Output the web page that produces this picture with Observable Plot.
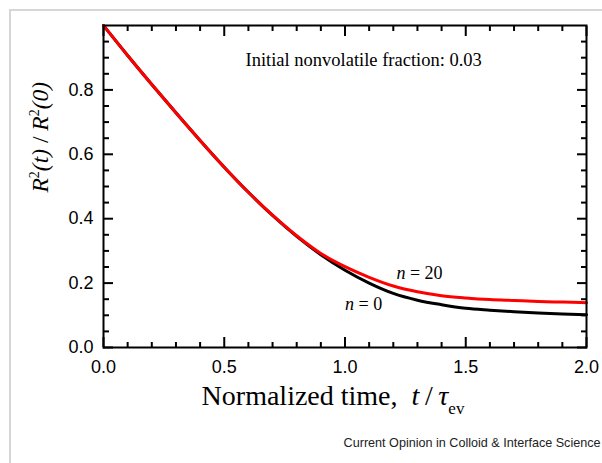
<!DOCTYPE html>
<html><head><meta charset="utf-8">
<script src="https://cdn.jsdelivr.net/npm/d3@7"></script>
<script src="https://cdn.jsdelivr.net/npm/@observablehq/plot@0.6"></script>
<style>
body{margin:0;background:#fff;}
#wrap{position:relative;width:602px;height:463px;overflow:hidden;background:#fff;}
#border{position:absolute;left:9px;top:9px;width:800px;height:800px;border-top:2px solid #d6d6d6;border-left:2px solid #d6d6d6;}
#wrap svg{position:absolute;left:0;top:0;}
</style></head><body><div id="wrap"><div id="border"></div></div>
<script>
const time = [0,0.1,0.2,0.3,0.4,0.5,0.6,0.7,0.8,0.9,1.0,1.1,1.2,1.3,1.4,1.5,1.6,1.7,1.8,1.9,2.0];
const n0  = [1.0,0.907,0.817,0.729,0.643,0.560,0.482,0.410,0.345,0.288,0.240,0.200,0.168,0.147,0.133,0.122,0.116,0.111,0.107,0.104,0.102];
const n20 = [1.0,0.907,0.817,0.729,0.643,0.560,0.482,0.411,0.347,0.292,0.251,0.218,0.191,0.173,0.161,0.154,0.149,0.146,0.143,0.141,0.139];
const seriesLabels = ["n = 0", "n = 20"];
const seriesColors = ["black", "red"];
const xMajor = [0,0.5,1,1.5,2];
const xMinor = [0.1,0.2,0.3,0.4,0.6,0.7,0.8,0.9,1.1,1.2,1.3,1.4,1.6,1.7,1.8,1.9];
const yMajor = [0,0.2,0.4,0.6,0.8];
const yMinor = [0.05,0.1,0.15,0.25,0.3,0.35,0.45,0.5,0.55,0.65,0.7,0.75,0.85,0.9,0.95];

const rows0 = time.map((t,i)=>({t, v:n0[i]}));
const rows20 = time.map((t,i)=>({t, v:n20[i]}));

const serif = "'Liberation Serif','Times New Roman',serif";
const sans = "'Liberation Sans',Arial,sans-serif";
const f1 = d3.format(".1f");

// inward ticks: draw outward-length ticks and shift them inside the frame
const tickMarks = [];
const xLen = [[xMajor,10],[xMinor,5]];
const yLen = [[yMajor,10],[yMinor,6]];
for (const [vals,len] of xLen) {
  tickMarks.push(Plot.axisX(vals, {anchor:"bottom", tickSize:len, dy:-len, strokeWidth:2, fill:"none", label:null}));
  tickMarks.push(Plot.axisX(vals, {anchor:"top", tickSize:len, dy:len, strokeWidth:2, fill:"none", label:null}));
}
for (const [vals,len] of yLen) {
  tickMarks.push(Plot.axisY(vals, {anchor:"left", tickSize:len, dx:len, strokeWidth:2, fill:"none", label:null}));
  tickMarks.push(Plot.axisY(vals, {anchor:"right", tickSize:len, dx:-len, strokeWidth:2, fill:"none", label:null}));
}

const plot = Plot.plot({
  width:602, height:463,
  marginLeft:103, marginRight:16, marginTop:25, marginBottom:116,
  style:{fontFamily:sans, background:"transparent", color:"black"},
  x:{domain:[0,2]},
  y:{domain:[0,1]},
  marks:[
    Plot.line(rows0, {x:"t", y:"v", stroke:seriesColors[0], strokeWidth:3, curve:"monotone-x"}),
    Plot.line(rows20, {x:"t", y:"v", stroke:seriesColors[1], strokeWidth:3, curve:"monotone-x"}),
    ...tickMarks,
    Plot.axisX(xMajor, {anchor:"bottom", tickSize:0, tickPadding:13, fontSize:18, tickFormat:f1, label:null, fill:"black"}),
    Plot.axisY(yMajor, {anchor:"left", tickSize:0, tickPadding:10, fontSize:18, tickFormat:f1, label:null, fill:"black"}),
    Plot.frame({stroke:"black", strokeWidth:2}),
    Plot.text(["Initial nonvolatile fraction: 0.03"], {x:0.588, y:0.892, textAnchor:"start", fontFamily:serif, fontSize:18.5, fill:"black"}),
    Plot.text([seriesLabels[1]], {x:1.213, y:0.23, textAnchor:"start", fontFamily:serif, fontSize:18, fill:"black"}),
    Plot.text([seriesLabels[0]], {x:1.0, y:0.134, textAnchor:"start", fontFamily:serif, fontSize:18, fill:"black"}),
    Plot.text(["Normalized time,  t/τev"], {frameAnchor:"bottom", dx:-12, dy:57, fontFamily:serif, fontSize:28, fill:"black"}),
    Plot.text(["R2(t) / R2(0)"], {frameAnchor:"left", rotate:-90, dx:-63, dy:6, fontFamily:serif, fontSize:23.5, fill:"black"}),
    Plot.text(["Current Opinion in Colloid & Interface Science"], {frameAnchor:"bottom-right", textAnchor:"end", dx:14, dy:99, fontSize:12.6, fill:"#222"})
  ]
});
document.getElementById("wrap").appendChild(plot);

// rich text formatting
function rich(match, parts) {
  const el = [...plot.querySelectorAll("text")].find(t => t.textContent === match);
  if (!el) return;
  el.textContent = "";
  for (const p of parts) {
    const ts = document.createElementNS("http://www.w3.org/2000/svg", "tspan");
    ts.textContent = p.t;
    if (p.italic) ts.setAttribute("font-style", "italic");
    if (p.size) ts.setAttribute("font-size", p.size);
    if (p.dy) ts.setAttribute("dy", p.dy);
    el.appendChild(ts);
  }
}
rich("n = 20", [{t:"n", italic:true}, {t:" = 20"}]);
rich("n = 0", [{t:"n", italic:true}, {t:" = 0"}]);
rich("Normalized time,  t/τev", [
  {t:"Normalized time,\u00a0\u00a0"}, {t:"t", italic:true}, {t:"\u2009/\u2009"}, {t:"τ", italic:true},
  {t:"ev", size:17, dy:9}
]);
rich("R2(t) / R2(0)", [
  {t:"R", italic:true}, {t:"2", size:14, dy:-9}, {t:"(t)", italic:true, dy:9},
  {t:" / "}, {t:"R", italic:true}, {t:"2", size:14, dy:-9}, {t:"(0)", italic:true, dy:9}
]);
</script>
</body></html>
